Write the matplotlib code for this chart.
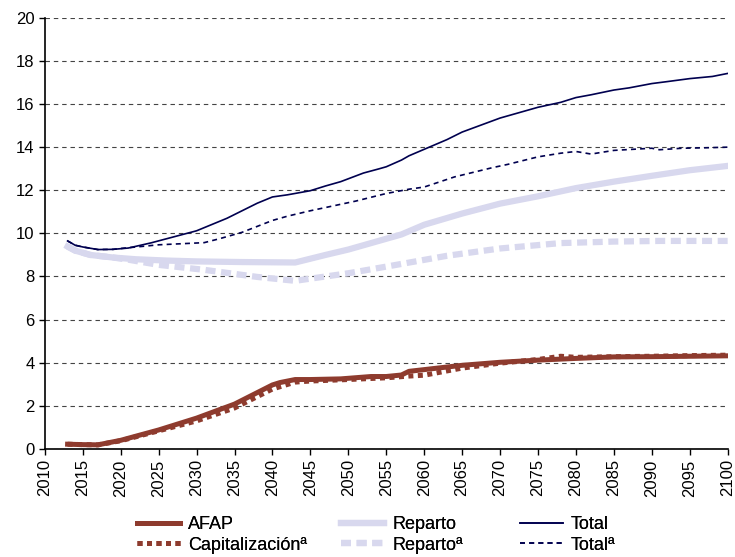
import matplotlib
matplotlib.use('Agg')
import matplotlib.pyplot as plt

plt.rcParams['font.family'] = ['Liberation Sans', 'DejaVu Sans']

# datos (% del PIB)
afap_years = [2013, 2015, 2017, 2020, 2025, 2030, 2035, 2040, 2041, 2043, 2045, 2049, 2053, 2055,
              2057, 2058, 2060, 2065, 2070, 2075, 2080, 2085, 2090, 2095, 2100]
afap = [0.22, 0.2, 0.19, 0.4, 0.88, 1.43, 2.08, 2.97, 3.08, 3.22, 3.22, 3.25, 3.36, 3.36,
        3.43, 3.6, 3.68, 3.88, 4.02, 4.12, 4.2, 4.27, 4.28, 4.3, 4.32]

cap_years = [2013, 2015, 2017, 2020, 2025, 2030, 2035, 2040, 2043, 2045, 2050, 2055, 2058, 2060,
             2065, 2070, 2075, 2078, 2080, 2085, 2090, 2095, 2100]
cap = [0.22, 0.2, 0.19, 0.38, 0.84, 1.3, 1.9, 2.78, 3.1, 3.15, 3.22, 3.3, 3.38, 3.42,
       3.75, 3.98, 4.15, 4.3, 4.25, 4.28, 4.3, 4.33, 4.35]

reparto_years = [2013, 2014, 2016, 2019, 2022, 2026, 2030, 2036, 2043, 2047, 2050, 2054, 2057,
                 2060, 2065, 2070, 2075, 2080, 2085, 2090, 2095, 2100]
reparto = [9.39, 9.2, 9.0, 8.88, 8.8, 8.74, 8.7, 8.67, 8.65, 9.0, 9.25, 9.65, 9.95,
           10.4, 10.92, 11.38, 11.72, 12.1, 12.4, 12.67, 12.93, 13.13]

reparto_a_years = [2013, 2014, 2016, 2019, 2021, 2025, 2031, 2038, 2043, 2050, 2056, 2063, 2070,
                   2078, 2085, 2091, 2100]
reparto_a = [9.39, 9.2, 9.0, 8.88, 8.78, 8.54, 8.31, 7.98, 7.8, 8.15, 8.52, 8.96, 9.3,
             9.55, 9.62, 9.65, 9.65]

total_years = [2013, 2014, 2015, 2017, 2019, 2021, 2024, 2027, 2030, 2034, 2038, 2040, 2042, 2045,
               2047, 2049, 2052, 2054, 2055, 2057, 2058, 2060, 2063, 2065, 2067, 2070, 2075, 2078,
               2080, 2082, 2085, 2087, 2090, 2092, 2095, 2098, 2100]
total = [9.65, 9.45, 9.37, 9.25, 9.26, 9.32, 9.56, 9.84, 10.12, 10.7, 11.4, 11.69, 11.79, 11.98,
         12.2, 12.4, 12.8, 12.99, 13.09, 13.4, 13.6, 13.9, 14.35, 14.7, 14.96, 15.35, 15.85, 16.08,
         16.3, 16.43, 16.65, 16.75, 16.95, 17.04, 17.18, 17.28, 17.42]

total_a_years = [2013, 2014, 2015, 2017, 2019, 2020, 2025, 2028, 2031, 2033, 2036, 2040, 2042, 2045,
                 2051, 2055, 2058, 2060, 2064, 2069, 2071, 2075, 2078, 2080, 2082, 2085, 2090, 2091,
                 2094, 2097, 2100]
total_a = [9.65, 9.45, 9.37, 9.25, 9.26, 9.3, 9.47, 9.52, 9.57, 9.75, 10.05, 10.6, 10.8, 11.05,
           11.5, 11.85, 12.05, 12.15, 12.62, 13.05, 13.2, 13.55, 13.72, 13.8, 13.68, 13.85, 13.95, 13.88,
           13.95, 13.97, 14.0]

brown = '#8E3B2E'
lav = '#D8D8EE'
navy = '#00004F'

fig = plt.figure(figsize=(7.35, 5.57), dpi=100)
ax = fig.add_axes([0.061, 0.194, 0.929, 0.774])

ax.plot(reparto_a_years, reparto_a, color=lav, lw=4.5, ls=(0, (1.6, 0.9)), dash_capstyle='butt',
        label='Repartoª')
ax.plot(reparto_years, reparto, color=lav, lw=4.5, label='Reparto')
ax.plot(total_a_years, total_a, color=navy, lw=1.2, ls=(0, (3, 2.5)), label='Totalª')
ax.plot(total_years, total, color=navy, lw=1.2, label='Total')
ax.plot(cap_years, cap, color=brown, lw=3.6, ls=(0, (1, 0.9)), dash_capstyle='butt',
        label='Capitalizaciónª')
ax.plot(afap_years, afap, color=brown, lw=3.6, label='AFAP')

ax.set_xlim(2010, 2100)
ax.set_ylim(0, 20)
ax.set_xticks(range(2010, 2101, 5))
ax.set_yticks(range(0, 21, 2))
ax.tick_params(axis='x', labelrotation=90, labelsize=12, direction='out', length=4, width=1)
ax.tick_params(axis='y', labelsize=12, direction='out', length=4, width=1)
ax.grid(axis='y', color='#444444', ls=(0, (4, 3.5)), lw=0.8)
ax.set_axisbelow(True)
for s in ['top', 'right']:
    ax.spines[s].set_visible(False)
ax.spines['left'].set_linewidth(1.2)
ax.spines['bottom'].set_linewidth(1.2)

# leyenda en tres columnas de igual ancho
h, l = ax.get_legend_handles_labels()
columns = [['AFAP', 'Capitalizaciónª'], ['Reparto', 'Repartoª'], ['Total', 'Totalª']]
col_x = [0.186, 0.464, 0.707]
for names, x in zip(columns, col_x):
    hs = [h[l.index(n)] for n in names]
    leg = fig.legend(hs, names, loc='center left', bbox_to_anchor=(x, 0.04), frameon=False,
                     fontsize=13, handlelength=2.4, labelspacing=0.2, handletextpad=0.45,
                     borderpad=0, borderaxespad=0)
    fig.add_artist(leg)

plt.savefig('out.png', dpi=100)
